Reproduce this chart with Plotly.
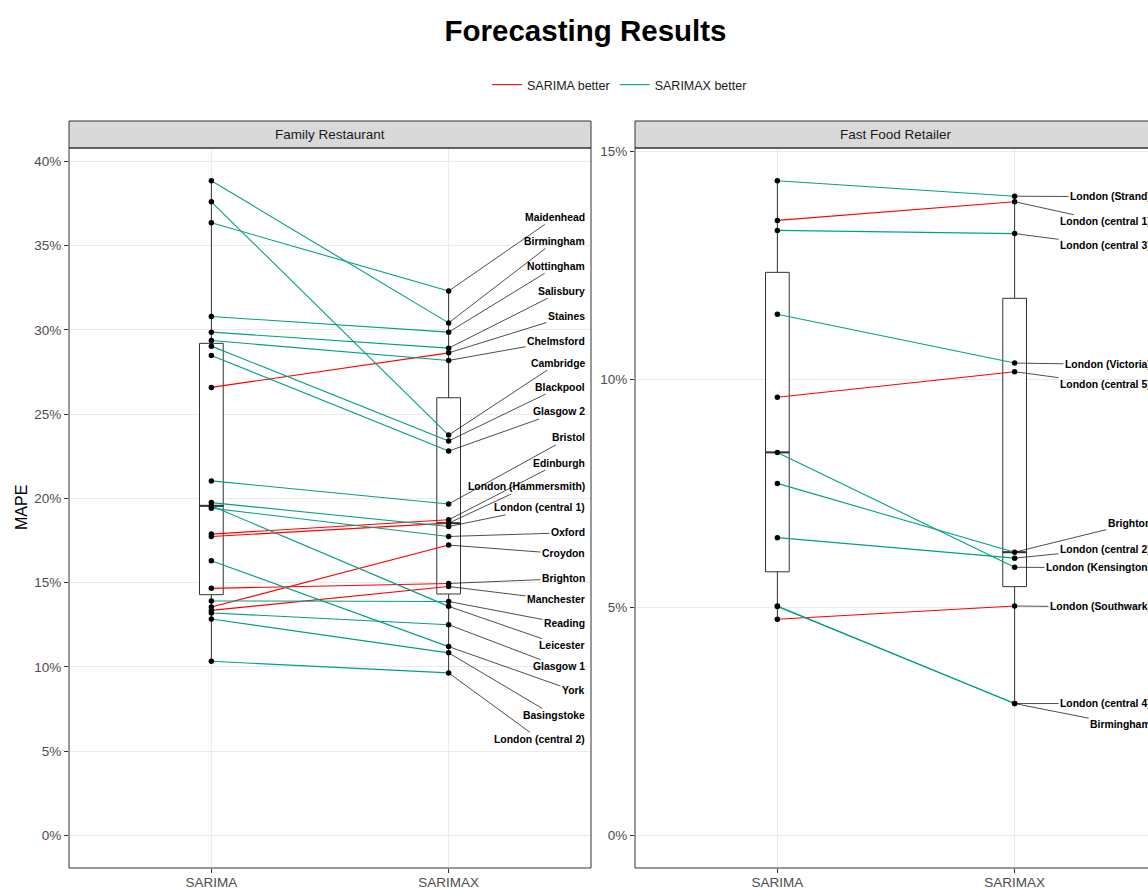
import numpy as np
import plotly.graph_objects as go

# ---------------- data ----------------
METHODS = ["SARIMA", "SARIMAX"]
PANELS = ["Family Restaurant", "Fast Food Retailer"]
LEGEND_NAMES = ["SARIMA better", "SARIMAX better"]

FAMILY_STORES = ["Maidenhead", "Birmingham", "Nottingham", "Salisbury", "Staines",
                 "Chelmsford", "Cambridge", "Blackpool", "Glasgow 2", "Bristol",
                 "Edinburgh", "London (Hammersmith)", "London (central 1)", "Oxford",
                 "Croydon", "Brighton", "Manchester", "Reading", "Leicester",
                 "Glasgow 1", "York", "Basingstoke", "London (central 2)"]
FAMILY_SARIMA = [36.37, 38.86, 30.80, 29.87, 26.59, 29.37, 37.61, 29.04, 28.49, 21.04,
                 17.88, 17.74, 19.75, 19.42, 13.55, 14.66, 13.35, 13.91, 19.56, 13.20,
                 16.30, 12.84, 10.33]
FAMILY_SARIMAX = [32.31, 30.42, 29.87, 28.92, 28.64, 28.19, 23.76, 23.41, 22.81, 19.67,
                  18.73, 18.53, 18.33, 17.74, 17.23, 14.95, 14.77, 13.88, 13.59, 12.50,
                  11.20, 10.83, 9.64]

FAST_STORES = ["London (Strand)", "London (central 1)", "London (central 3)",
               "London (Victoria)", "London (central 5)", "Brighton", "London (central 2)",
               "London (Kensington)", "London (Southwark)", "London (central 4)", "Birmingham"]
FAST_SARIMA = [14.36, 13.49, 13.27, 11.43, 9.61, 7.72, 6.53, 8.40, 4.74, 5.03, 5.02]
FAST_SARIMAX = [14.02, 13.90, 13.20, 10.36, 10.17, 6.21, 6.08, 5.88, 5.03, 2.89, 2.89]

# ---------------- label placement (repelled label heights, in MAPE %) ----------------
FAMILY_LABEL_Y = [36.68, 35.26, 33.78, 32.30, 30.81, 29.33, 28.03, 26.61, 25.13, 23.59,
                  22.10, 20.68, 19.44, 17.96, 16.71, 15.23, 13.99, 12.56, 11.26, 10.01,
                  8.59, 7.11, 5.69]
FAST_LABEL_Y = [14.01, 13.46, 12.94, 10.33, 9.90, 6.83, 6.28, 5.87, 5.01, 2.89, 2.43]

# ---------------- layout constants ----------------
W, H = 1148, 888
FONT = "Liberation Sans, Arial, sans-serif"
RED = "#FF0000"
TEAL = "#00A087"
PANEL_L = (69, 591)
PANEL_R = (635, 1157)          # original right panel extends past the window
PANEL_TOP, PANEL_BOTTOM = 148, 868
STRIP_TOP = 121
PPU = (PANEL_L[1] - PANEL_L[0]) / 2.2   # px per x unit
BOX_W = 0.1
LABEL_SIZE = 10.4

ARIAL_BOLD = {' ': 278, '(': 333, ')': 333,
              'A': 722, 'B': 722, 'C': 722, 'D': 722, 'E': 667, 'F': 611, 'G': 778, 'H': 722,
              'I': 278, 'J': 556, 'K': 722, 'L': 611, 'M': 833, 'N': 722, 'O': 778, 'P': 667,
              'Q': 778, 'R': 722, 'S': 667, 'T': 611, 'U': 722, 'V': 667, 'W': 944, 'X': 667,
              'Y': 667, 'Z': 611,
              'a': 556, 'b': 611, 'c': 556, 'd': 611, 'e': 556, 'f': 333, 'g': 611, 'h': 611,
              'i': 278, 'j': 278, 'k': 556, 'l': 278, 'm': 889, 'n': 611, 'o': 611, 'p': 611,
              'q': 611, 'r': 389, 's': 556, 't': 333, 'u': 611, 'v': 556, 'w': 778, 'x': 556,
              'y': 556, 'z': 500}


def text_w(s, size):
    return sum(ARIAL_BOLD.get(c, 556) for c in s) / 1000.0 * size


def py(px):
    return (H - px) / H


def pxx(px):
    return px / W


fig = go.Figure()
annotations = []
shapes = []

panels = [
    (FAMILY_STORES, FAMILY_SARIMA, FAMILY_SARIMAX, FAMILY_LABEL_Y, "x", "y"),
    (FAST_STORES, FAST_SARIMA, FAST_SARIMAX, FAST_LABEL_Y, "x2", "y2"),
]

yranges = []
for pi, (stores, s1, s2, laby, xa, ya) in enumerate(panels):
    n = len(stores)
    # boxplots
    fig.add_trace(go.Box(
        x=[1] * n + [2] * n, y=list(s1) + list(s2), width=BOX_W,
        boxpoints=False, quartilemethod="inclusive", whiskerwidth=0,
        fillcolor="white", line=dict(color="#333333", width=1),
        showlegend=False, hoverinfo="skip", xaxis=xa, yaxis=ya))
    # thicker median bars like ggplot
    medx, medy = [], []
    for k, vals in enumerate([s1, s2]):
        m = float(np.median(vals))
        medx += [k + 1 - BOX_W / 2, k + 1 + BOX_W / 2, None]
        medy += [m, m, None]
    fig.add_trace(go.Scatter(x=medx, y=medy, mode="lines",
                             line=dict(color="#333333", width=2),
                             showlegend=False, hoverinfo="skip", xaxis=xa, yaxis=ya))
    # connecting segments by colour
    for name, col in zip(LEGEND_NAMES, [RED, TEAL]):
        xs, ys = [], []
        for a, b in zip(s1, s2):
            better = LEGEND_NAMES[0] if a < b else LEGEND_NAMES[1]
            if better == name:
                xs += [1, 2, None]
                ys += [a, b, None]
        fig.add_trace(go.Scatter(x=xs, y=ys, mode="lines", name=name,
                                 line=dict(color=col, width=1.1),
                                 legendgroup=name, showlegend=(pi == 0),
                                 hoverinfo="skip", xaxis=xa, yaxis=ya))
    # points
    fig.add_trace(go.Scatter(x=[1] * n + [2] * n, y=list(s1) + list(s2), mode="markers",
                             marker=dict(color="black", size=5.5),
                             showlegend=False, hoverinfo="skip", xaxis=xa, yaxis=ya))
    # labels with leader lines
    right_edge = 2.6 - 6 / PPU
    for name, v, ly in zip(stores, s2, laby):
        w = text_w(name, LABEL_SIZE)
        cx = right_edge - (w / 2) / PPU
        annotations.append(dict(
            x=2, y=v, xref=xa, yref=ya, ax=cx, ay=ly, axref=xa, ayref=ya,
            text="<b>" + name + "</b>", showarrow=True, arrowhead=0, arrowwidth=0.7,
            arrowcolor="#000000", standoff=0, borderpad=1,
            font=dict(family=FONT, size=LABEL_SIZE, color="#000000")))
    vmax = max(max(s1), max(s2))
    yranges.append([-0.05 * vmax, 1.05 * vmax])


def pct_ticks(vmax):
    vals = list(range(0, int(vmax) + 1, 5))
    return vals, [f"{v}%" for v in vals]


ydom = [py(PANEL_BOTTOM), py(PANEL_TOP)]
axis_common = dict(showgrid=True, gridcolor="#EBEBEB", gridwidth=1, zeroline=False,
                   ticks="outside", ticklen=4, tickwidth=1, tickcolor="#333333",
                   showline=False, automargin=False,
                   tickfont=dict(family=FONT, size=13.5, color="#4D4D4D"))

tv1, tt1 = pct_ticks(yranges[0][1])
tv2, tt2 = pct_ticks(yranges[1][1])

fig.update_layout(
    template="none",
    width=W, height=H, autosize=False,
    margin=dict(l=0, r=0, t=0, b=0, pad=0),
    paper_bgcolor="white", plot_bgcolor="white",
    font=dict(family=FONT),
    title=dict(text="<b>Forecasting Results</b>", x=585.5 / W, xanchor="center",
               y=py(31), yanchor="middle", xref="paper", yref="container",
               font=dict(family=FONT, size=29.5, color="#000000")),
    xaxis=dict(domain=[pxx(PANEL_L[0]), pxx(PANEL_L[1])], range=[0.4, 2.6],
               tickvals=[1, 2], ticktext=METHODS, anchor="y", ticklabelstandoff=-2,
               **axis_common),
    xaxis2=dict(domain=[pxx(PANEL_R[0]), 1.0],
                range=[0.4, 0.4 + (W - PANEL_R[0]) / PPU],
                tickvals=[1, 2], ticktext=METHODS, anchor="y2", ticklabelstandoff=-2,
                **axis_common),
    yaxis=dict(domain=ydom, range=yranges[0], tickvals=tv1, ticktext=tt1,
               anchor="x", **axis_common),
    yaxis2=dict(domain=ydom, range=yranges[1], tickvals=tv2, ticktext=tt2,
                anchor="x2", **axis_common),
    legend=dict(orientation="h", x=pxx(487), xanchor="left", y=py(85), yanchor="middle",
                font=dict(family=FONT, size=12.5, color="#1A1A1A"),
                itemwidth=30, bgcolor="rgba(0,0,0,0)", borderwidth=0),
    showlegend=True,
)

# strips and panel borders
for (x0, x1), title in zip([PANEL_L, PANEL_R], PANELS):
    shapes.append(dict(type="rect", xref="paper", yref="paper",
                       x0=pxx(x0), x1=pxx(x1), y0=py(PANEL_TOP), y1=py(STRIP_TOP),
                       fillcolor="#D9D9D9", line=dict(color="#333333", width=1),
                       layer="above"))
    shapes.append(dict(type="rect", xref="paper", yref="paper",
                       x0=pxx(x0), x1=pxx(x1), y0=py(PANEL_BOTTOM), y1=py(PANEL_TOP),
                       fillcolor="rgba(0,0,0,0)", line=dict(color="#333333", width=1),
                       layer="above"))
    annotations.append(dict(text=title, xref="paper", yref="paper",
                            x=pxx((x0 + x1) / 2), y=py((STRIP_TOP + PANEL_TOP) / 2),
                            xanchor="center", yanchor="middle", showarrow=False,
                            font=dict(family=FONT, size=13.5, color="#1A1A1A")))

annotations.append(dict(text="MAPE", xref="paper", yref="paper", x=pxx(22),
                        y=py((PANEL_TOP + PANEL_BOTTOM) / 2), textangle=-90,
                        xanchor="center", yanchor="middle", showarrow=False,
                        font=dict(family=FONT, size=16, color="#000000")))

fig.update_layout(shapes=shapes, annotations=annotations)

fig.write_html("out.html", config={"displayModeBar": False},
               post_script="document.body.style.margin='0';document.body.style.overflow='hidden';")
